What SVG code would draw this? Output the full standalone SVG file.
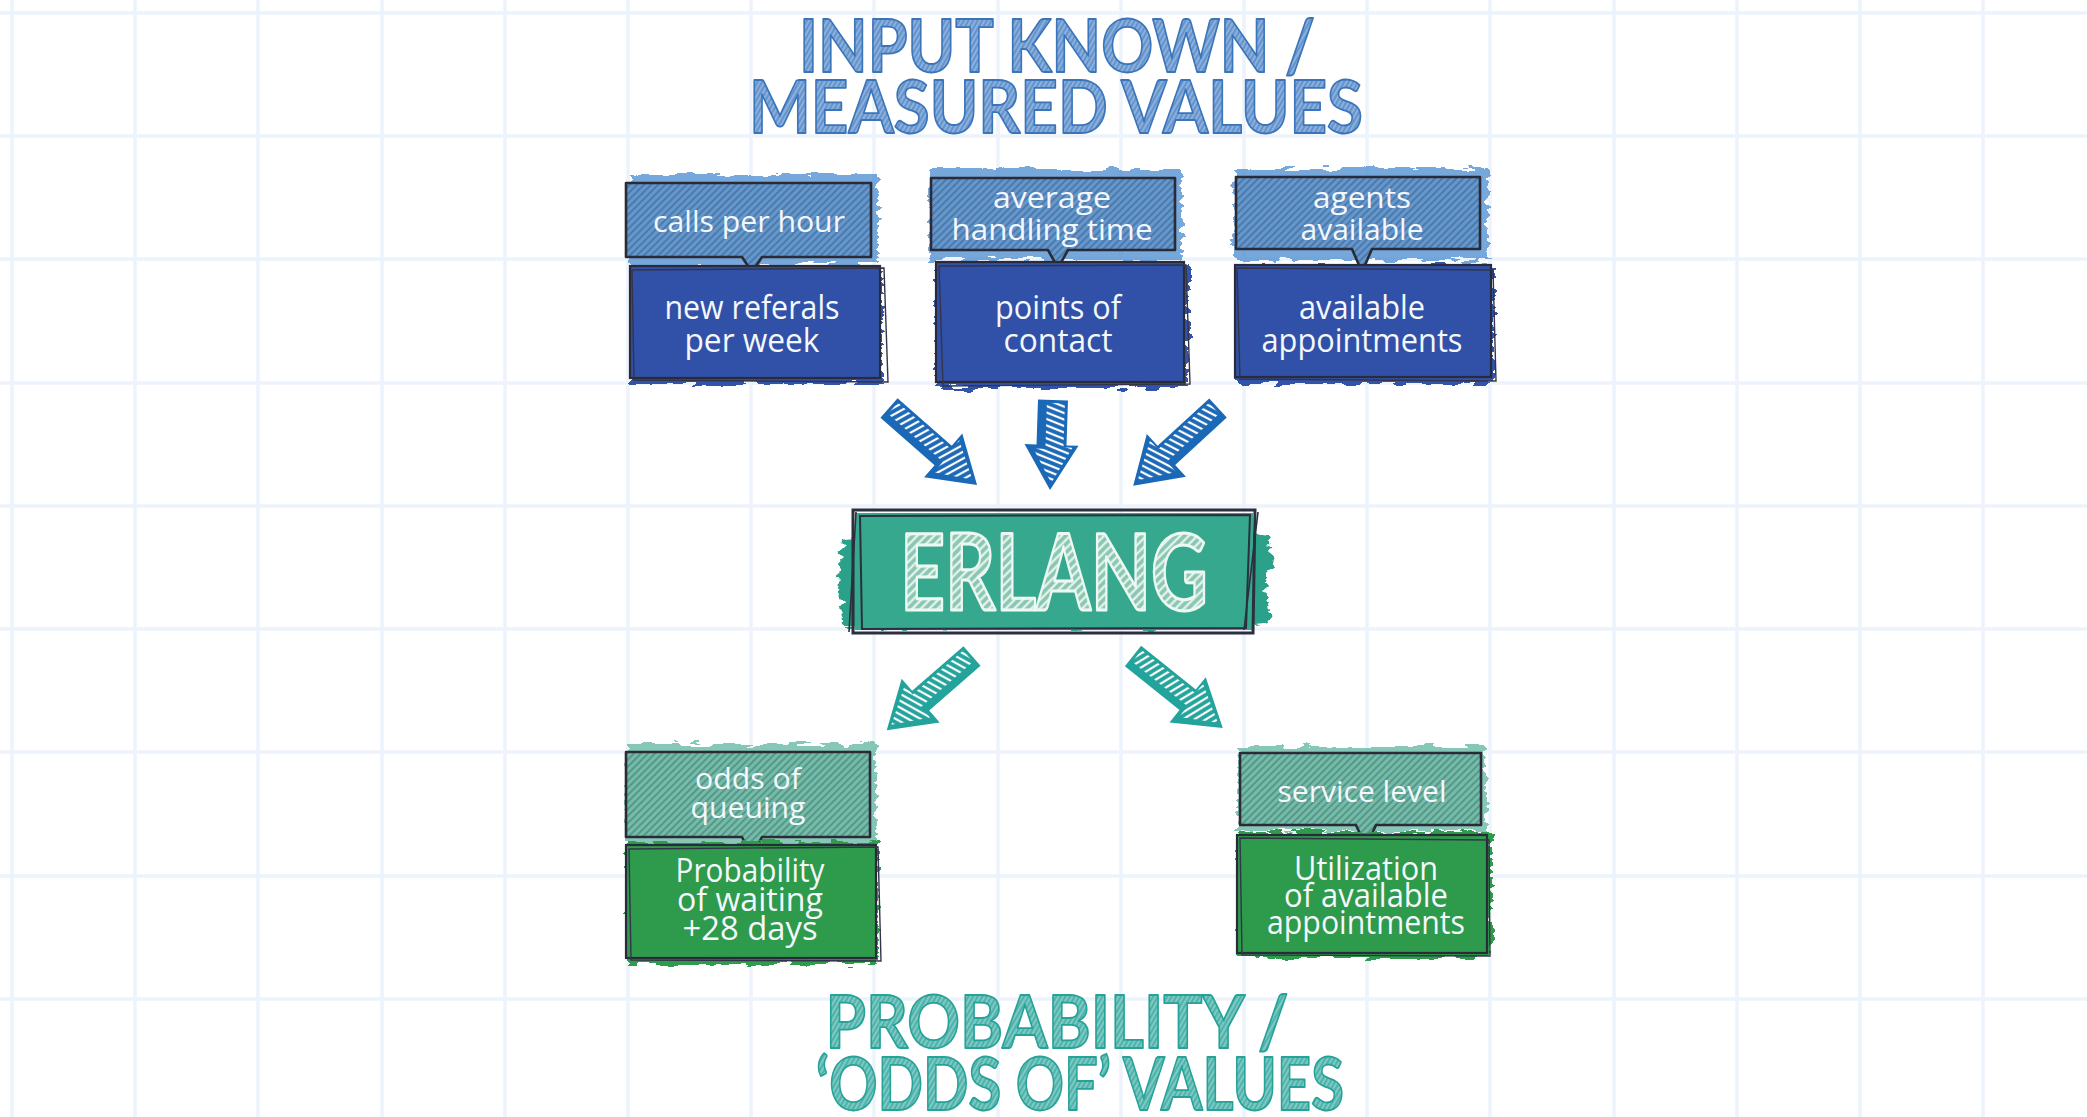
<svg xmlns="http://www.w3.org/2000/svg" width="2087" height="1117" viewBox="0 0 2087 1117">
<defs>
<style>
.grid line{stroke:#edf3fb;stroke-width:3.5}
.title{font-family:Lato,"Liberation Sans",sans-serif;font-weight:700;font-size:72px;text-anchor:middle;stroke-width:1.8;stroke-linejoin:round}
.tblue{fill:url(#pTitleBlue);stroke:#3a74ba}
.tteal{fill:url(#pTitleTeal);stroke:#25a29a}
.tag{stroke:#2a2b36;stroke-width:2.6;stroke-linejoin:round}
.tagBlue{fill:url(#pTagBlue)}
.tagTeal{fill:url(#pTagTeal)}
.box{stroke:#2a2b3a;stroke-width:2.2}
.sketch{fill:none;stroke:#33344a;stroke-width:1.4}
.boxBlue{fill:#3051a7}
.boxGreen{fill:#2e9a4b}
.washBlue{fill:#4a8bd0;opacity:.75}
.washDeep{fill:#3152aa}
.washTeal{fill:#5fb5a0;opacity:.75}
.washGreen{fill:#2f9c4c}
.lbl{font-family:"Open Sans","Liberation Sans",sans-serif;fill:#f4f7fb;text-anchor:middle}
.lt{font-size:30px}
.lm{font-size:32px}
.arrBlue{fill:#1b68b6}
.arrTeal{fill:#22a39b}
.face{fill:url(#pWhite)}
</style>
<pattern id="pTagBlue" width="5" height="5" patternUnits="userSpaceOnUse" patternTransform="rotate(45)">
<rect width="5" height="5" fill="#6498cd"/>
<line x1="1" y1="0" x2="1" y2="5" stroke="#274a74" stroke-width="1.3" opacity=".6"/>
</pattern>
<pattern id="pTagTeal" width="5" height="5" patternUnits="userSpaceOnUse" patternTransform="rotate(45)">
<rect width="5" height="5" fill="#74bcaa"/>
<line x1="1" y1="0" x2="1" y2="5" stroke="#2b5a50" stroke-width="1.3" opacity=".6"/>
</pattern>
<pattern id="pWhite" width="6" height="6" patternUnits="userSpaceOnUse" patternTransform="rotate(20)">
<line x1="2" y1="0" x2="2" y2="6" stroke="#ffffff" stroke-width="2.2"/>
</pattern>
<pattern id="pTitleBlue" width="4" height="4" patternUnits="userSpaceOnUse" patternTransform="rotate(30)">
<rect width="4" height="4" fill="#8cb0dc"/>
<line x1="1" y1="0" x2="1" y2="4" stroke="#4a80c2" stroke-width="1.2"/>
</pattern>
<pattern id="pTitleTeal" width="4" height="4" patternUnits="userSpaceOnUse" patternTransform="rotate(30)">
<rect width="4" height="4" fill="#7ec9c1"/>
<line x1="1" y1="0" x2="1" y2="4" stroke="#2ea59d" stroke-width="1.2"/>
</pattern>
<pattern id="pErlang" width="6" height="6" patternUnits="userSpaceOnUse" patternTransform="rotate(45)">
<rect width="6" height="6" fill="#8ac7b2"/>
<line x1="1.5" y1="0" x2="1.5" y2="6" stroke="#f4faf6" stroke-width="2"/>
</pattern>
<filter id="rough" x="-10%" y="-20%" width="120%" height="140%">
<feTurbulence type="fractalNoise" baseFrequency="0.05 0.18" numOctaves="2" seed="4"/>
<feDisplacementMap in="SourceGraphic" scale="14" xChannelSelector="R" yChannelSelector="G"/>
</filter>
</defs>

<rect width="2087" height="1117" fill="#ffffff"/>
<g class="grid">
<line x1="12" y1="0" x2="12" y2="1117"/><line x1="135" y1="0" x2="135" y2="1117"/><line x1="258" y1="0" x2="258" y2="1117"/><line x1="382" y1="0" x2="382" y2="1117"/><line x1="505" y1="0" x2="505" y2="1117"/><line x1="628" y1="0" x2="628" y2="1117"/><line x1="751" y1="0" x2="751" y2="1117"/><line x1="874" y1="0" x2="874" y2="1117"/><line x1="998" y1="0" x2="998" y2="1117"/><line x1="1121" y1="0" x2="1121" y2="1117"/><line x1="1244" y1="0" x2="1244" y2="1117"/><line x1="1367" y1="0" x2="1367" y2="1117"/><line x1="1490" y1="0" x2="1490" y2="1117"/><line x1="1614" y1="0" x2="1614" y2="1117"/><line x1="1737" y1="0" x2="1737" y2="1117"/><line x1="1860" y1="0" x2="1860" y2="1117"/><line x1="1983" y1="0" x2="1983" y2="1117"/>
<line x1="0" y1="13" x2="2087" y2="13"/><line x1="0" y1="136" x2="2087" y2="136"/><line x1="0" y1="259" x2="2087" y2="259"/><line x1="0" y1="383" x2="2087" y2="383"/><line x1="0" y1="506" x2="2087" y2="506"/><line x1="0" y1="629" x2="2087" y2="629"/><line x1="0" y1="752" x2="2087" y2="752"/><line x1="0" y1="876" x2="2087" y2="876"/><line x1="0" y1="999" x2="2087" y2="999"/>
</g>

<g id="title-input">
<text class="title tblue" x="1057" y="72" textLength="516" lengthAdjust="spacingAndGlyphs">INPUT KNOWN /</text>
<text class="title tblue" x="1056" y="133" textLength="614" lengthAdjust="spacingAndGlyphs">MEASURED VALUES</text>
</g>

<g id="tag-calls-per-hour">
<rect class="washBlue" x="628" y="174" width="250" height="90" filter="url(#rough)"/>
<path class="tag tagBlue" d="M626,183 H871 V257 H762 L752,272 L742,257 H626 Z"/>
<text class="lbl lt" x="749" y="232" textLength="192" lengthAdjust="spacingAndGlyphs">calls per hour</text>
</g>
<g id="box-new-referals">
<rect class="washDeep" x="632" y="268" width="250" height="116" filter="url(#rough)"/>
<rect class="box boxBlue" x="630" y="266" width="250" height="112"/>
<path class="sketch" d="M632,270 L884,268 L888,382 L634,380 Z"/>
<text class="lbl lm" x="752" y="319" textLength="175" lengthAdjust="spacingAndGlyphs">new referals</text>
<text class="lbl lm" x="752" y="352" textLength="135" lengthAdjust="spacingAndGlyphs">per week</text>
</g>

<g id="tag-average-handling-time">
<rect class="washBlue" x="930" y="169" width="252" height="91" filter="url(#rough)"/>
<path class="tag tagBlue" d="M931,178 H1175 V250 H1068 L1058,268 L1048,250 H931 Z"/>
<text class="lbl lt" x="1052" y="208" textLength="118" lengthAdjust="spacingAndGlyphs">average</text>
<text class="lbl lt" x="1052" y="240" textLength="201" lengthAdjust="spacingAndGlyphs">handling time</text>
</g>
<g id="box-points-of-contact">
<rect class="washDeep" x="936" y="264" width="252" height="124" filter="url(#rough)"/>
<rect class="box boxBlue" x="936" y="262" width="248" height="120"/>
<path class="sketch" d="M939,266 L1186,265 L1190,384 L943,386 Z"/>
<text class="lbl lm" x="1058" y="319" textLength="126" lengthAdjust="spacingAndGlyphs">points of</text>
<text class="lbl lm" x="1058" y="352" textLength="109" lengthAdjust="spacingAndGlyphs">contact</text>
</g>

<g id="tag-agents-available">
<rect class="washBlue" x="1234" y="168" width="254" height="92" filter="url(#rough)"/>
<path class="tag tagBlue" d="M1236,177 H1480 V249 H1372 L1362,272 L1352,249 H1236 Z"/>
<text class="lbl lt" x="1362" y="208" textLength="98" lengthAdjust="spacingAndGlyphs">agents</text>
<text class="lbl lt" x="1362" y="240" textLength="123" lengthAdjust="spacingAndGlyphs">available</text>
</g>
<g id="box-available-appointments">
<rect class="washDeep" x="1238" y="266" width="256" height="118" filter="url(#rough)"/>
<rect class="box boxBlue" x="1235" y="265" width="256" height="112"/>
<path class="sketch" d="M1237,268 L1493,270 L1496,381 L1240,379 Z"/>
<text class="lbl lm" x="1362" y="319" textLength="126" lengthAdjust="spacingAndGlyphs">available</text>
<text class="lbl lm" x="1362" y="352" textLength="201" lengthAdjust="spacingAndGlyphs">appointments</text>
</g>

<g id="connectors">
<g transform="translate(889,408) rotate(41.2)">
<path class="arrBlue" d="M0,-13 H72 V-29 L117,0 L72,29 V13 H0 Z"/>
<path class="face" d="M3,-10 H74 V-22 L110,-1 L76,19 V5 H3 Z"/>
</g>
<g transform="translate(1053,400) rotate(91.9)">
<path class="arrBlue" d="M0,-15 H45 V-27 L90,0 L45,27 V15 H0 Z"/>
<path class="face" d="M3,-12 H47 V-21 L83,-1 L49,18 V6 H3 Z"/>
</g>
<g transform="translate(1218,408) rotate(137.5) scale(1,-1)">
<path class="arrBlue" d="M0,-13 H70 V-29 L115,0 L70,29 V13 H0 Z"/>
<path class="face" d="M3,-10 H72 V-22 L108,-1 L74,19 V5 H3 Z"/>
</g>
<g transform="translate(972,656) rotate(139) scale(1,-1)">
<path class="arrTeal" d="M0,-13 H68 V-29 L113,0 L68,29 V13 H0 Z"/>
<path class="face" d="M3,-10 H70 V-22 L106,-1 L72,19 V5 H3 Z"/>
</g>
<g transform="translate(1133,656) rotate(38.7)">
<path class="arrTeal" d="M0,-13 H70 V-29 L115,0 L70,29 V13 H0 Z"/>
<path class="face" d="M3,-10 H72 V-22 L108,-1 L74,19 V5 H3 Z"/>
</g>
</g>

<g id="node-erlang">
<path d="M842,538 C860,530 1240,528 1268,536 L1272,560 L1266,590 L1270,622 C1240,630 870,632 844,624 L838,590 Z" fill="#2aa188" filter="url(#rough)"/>
<rect x="855" y="513" width="398" height="117" fill="#35a88e"/>
<path d="M853,510 L1255,510 L1253,633 L853,633 Z" fill="none" stroke="#2b2f3e" stroke-width="3"/>
<path d="M860,516 L1250,515 L1246,628 L862,629 Z" fill="none" stroke="#2b2f3e" stroke-width="2"/>
<path d="M849,632 L856,512 M1258,512 L1244,630" fill="none" stroke="#2b2f3e" stroke-width="1.6"/>
<text x="1054" y="610" font-family="Lato,'Liberation Sans',sans-serif" font-weight="700" font-size="106" text-anchor="middle" textLength="308" lengthAdjust="spacingAndGlyphs" fill="url(#pErlang)" stroke="#eef8f3" stroke-width="3" stroke-linejoin="round">ERLANG</text>
</g>

<g id="tag-odds-of-queuing">
<rect class="washTeal" x="626" y="744" width="250" height="98" filter="url(#rough)"/>
<path class="tag tagTeal" d="M626,752 H870 V837 H762 L752,857 L742,837 H626 Z"/>
<text class="lbl lt" x="748" y="789" textLength="106" lengthAdjust="spacingAndGlyphs">odds of</text>
<text class="lbl lt" x="748" y="818" textLength="115" lengthAdjust="spacingAndGlyphs">queuing</text>
</g>
<g id="box-probability-of-waiting">
<rect class="washGreen" x="628" y="842" width="250" height="122" filter="url(#rough)"/>
<rect class="box boxGreen" x="626" y="845" width="250" height="113"/>
<path class="sketch" d="M629,849 L878,847 L881,961 L631,960 Z"/>
<text class="lbl lm" x="750" y="882" textLength="149" lengthAdjust="spacingAndGlyphs">Probability</text>
<text class="lbl lm" x="750" y="911" textLength="146" lengthAdjust="spacingAndGlyphs">of waiting</text>
<text class="lbl lm" x="750" y="940" textLength="135" lengthAdjust="spacingAndGlyphs">+28 days</text>
</g>

<g id="tag-service-level">
<rect class="washTeal" x="1238" y="746" width="248" height="85" filter="url(#rough)"/>
<path class="tag tagTeal" d="M1240,753 H1481 V825 H1376 L1366,847 L1356,825 H1240 Z"/>
<text class="lbl lt" x="1362" y="802" textLength="169" lengthAdjust="spacingAndGlyphs">service level</text>
</g>
<g id="box-utilization">
<rect class="washGreen" x="1238" y="832" width="254" height="126" filter="url(#rough)"/>
<rect class="box boxGreen" x="1237" y="835" width="250" height="118"/>
<path class="sketch" d="M1240,838 L1489,840 L1490,956 L1242,955 Z"/>
<text class="lbl lm" x="1366" y="880" textLength="144" lengthAdjust="spacingAndGlyphs">Utilization</text>
<text class="lbl lm" x="1366" y="907" textLength="164" lengthAdjust="spacingAndGlyphs">of available</text>
<text class="lbl lm" x="1366" y="934" textLength="198" lengthAdjust="spacingAndGlyphs">appointments</text>
</g>

<g id="title-probability">
<text class="title tteal" x="1057" y="1048" textLength="463" lengthAdjust="spacingAndGlyphs">PROBABILITY /</text>
<text class="title tteal" x="1080" y="1110" textLength="528" lengthAdjust="spacingAndGlyphs">‘ODDS OF’ VALUES</text>
</g>
</svg>
